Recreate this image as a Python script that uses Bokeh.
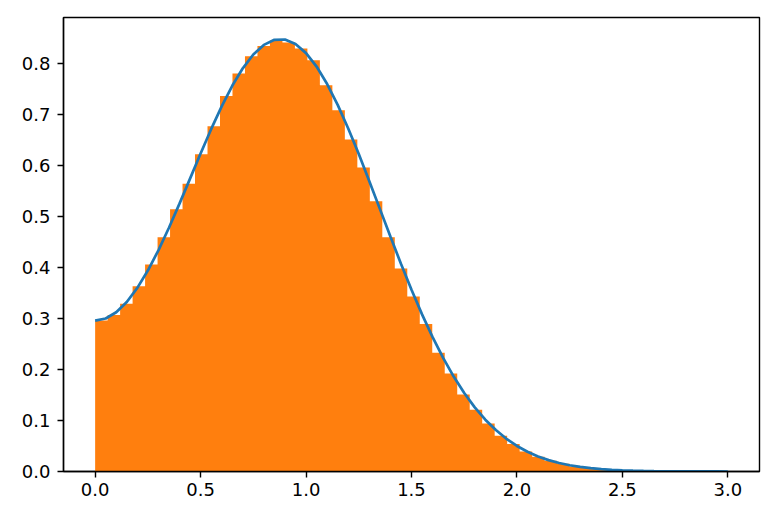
import numpy as np
from bokeh.plotting import figure
from bokeh.models import Range1d, FixedTicker, PrintfTickFormatter, ColumnDataSource
from bokeh.embed import file_html
from bokeh.resources import INLINE

# Histogram (density) values: 50 bins from 0 to ~2.96
hist_start = 0.0
hist_end = 2.96
hist_density = [
    0.296, 0.307, 0.329, 0.363, 0.406, 0.459, 0.514, 0.564, 0.622, 0.677,
    0.736, 0.780, 0.814, 0.834, 0.845, 0.841, 0.829, 0.806, 0.757, 0.708,
    0.651, 0.596, 0.530, 0.459, 0.398, 0.343, 0.289, 0.233, 0.192, 0.151,
    0.121, 0.094, 0.070, 0.054, 0.039, 0.029, 0.021, 0.015, 0.010, 0.007,
    0.0047, 0.0031, 0.0020, 0.0013, 0.0008, 0.0005, 0.0003, 0.0002, 0.0001, 0.0001,
]

# Density curve, at x = 0.00, 0.05, ..., 3.00
curve_start = 0.0
curve_end = 3.0
curve_y = [
    0.2958, 0.2999, 0.3122, 0.3324, 0.3599, 0.3939, 0.4336, 0.4778, 0.5251, 0.5741,
    0.6233, 0.6711, 0.7159, 0.7561, 0.7904, 0.8174, 0.8363, 0.8463, 0.8469, 0.8381,
    0.8202, 0.7938, 0.7596, 0.7187, 0.6724, 0.6222, 0.5691, 0.5148, 0.4605, 0.4072,
    0.3562, 0.3080, 0.2633, 0.2226, 0.1861, 0.1538, 0.1258, 0.1016, 0.0812, 0.0641,
    0.0501, 0.0387, 0.0296, 0.0223, 0.0167, 0.0123, 0.0090, 0.0065, 0.0046, 0.0033,
    0.0023, 0.0016, 0.0011, 0.0007, 0.0005, 0.0003, 0.0002, 0.0001, 0.0001, 0.0001,
    0.0000,
]

x_ticks = [0.0, 0.5, 1.0, 1.5, 2.0, 2.5, 3.0]
y_ticks = [0.0, 0.1, 0.2, 0.3, 0.4, 0.5, 0.6, 0.7, 0.8]

edges = np.linspace(hist_start, hist_end, len(hist_density) + 1)
curve_x = np.linspace(curve_start, curve_end, len(curve_y))

ORANGE = "#ff7f0e"
BLUE = "#1f77b4"
FONT = "DejaVu Sans"

p = figure(width=778, height=521, output_backend="svg", toolbar_location=None,
           x_range=Range1d(-0.15, 3.15), y_range=Range1d(0, 0.89),
           min_border_left=63, min_border_right=19, min_border_top=17, min_border_bottom=50)

# histogram drawn as one stepped area (no seams between bars)
hist_src = ColumnDataSource(dict(x=edges, y1=[0.0] * len(edges),
                                 y2=list(hist_density) + [hist_density[-1]]))
p.varea_step(x="x", y1="y1", y2="y2", source=hist_src, step_mode="after",
             fill_color=ORANGE)

curve_src = ColumnDataSource(dict(x=curve_x, y=curve_y))
p.line("x", "y", source=curve_src, line_color=BLUE, line_width=2.7)

p.xgrid.visible = False
p.ygrid.visible = False
p.outline_line_color = "black"
p.outline_line_width = 1.4
p.outline_line_alpha = 1.0
p.background_fill_color = "white"
p.border_fill_color = "white"

for ax, ticks in ((p.xaxis[0], x_ticks), (p.yaxis[0], y_ticks)):
    ax.ticker = FixedTicker(ticks=ticks)
    ax.formatter = PrintfTickFormatter(format="%.1f")
    ax.minor_tick_line_color = None
    ax.major_tick_out = 6
    ax.major_tick_in = 0
    ax.major_tick_line_width = 1.4
    ax.major_tick_line_color = "black"
    ax.axis_line_width = 1.4
    ax.axis_line_color = "black"
    ax.major_label_text_font = FONT
    ax.major_label_text_font_size = "18px"
    ax.major_label_text_color = "black"

p.xaxis[0].major_label_standoff = 5
p.yaxis[0].major_label_standoff = 7

open("out.html", "w").write(file_html(p, INLINE))
